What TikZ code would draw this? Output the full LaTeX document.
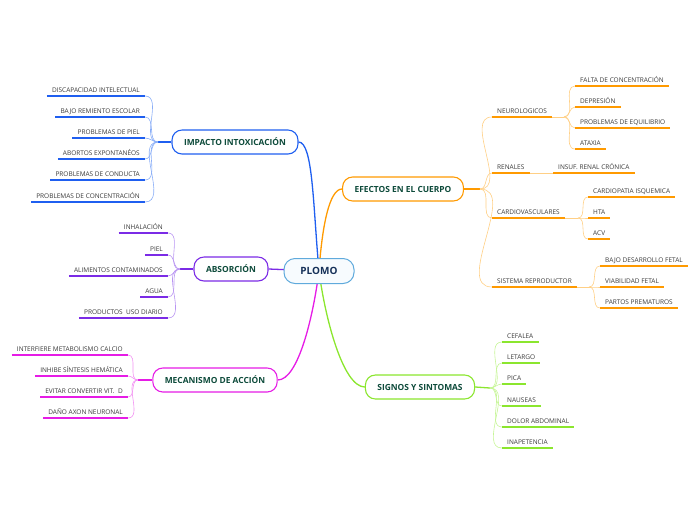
\documentclass[tikz,border=0pt]{standalone}
\usepackage{fontspec}
\setmainfont{Open Sans}
\usetikzlibrary{backgrounds}
\definecolor{HubLine}   {RGB}{95,170,220}
\definecolor{HubFill}   {RGB}{247,251,254}
\definecolor{HubText}   {RGB}{21,48,88}
\definecolor{TopicText} {RGB}{14,75,59}
\definecolor{LeafText}  {RGB}{58,58,58}
\definecolor{Blue}      {RGB}{31,95,240}
\definecolor{BlueLt}    {RGB}{138,174,247}
\definecolor{Purple}    {RGB}{123,43,230}
\definecolor{PurpleLt}  {RGB}{185,149,242}
\definecolor{Magenta}   {RGB}{230,28,230}
\definecolor{MagentaLt} {RGB}{242,145,242}
\definecolor{Orange}    {RGB}{255,154,0}
\definecolor{OrangeLt}  {RGB}{255,207,133}
\definecolor{Green}     {RGB}{139,230,46}
\definecolor{GreenLt}   {RGB}{198,245,150}
\tikzset{
  hub/.style={
    rectangle, rounded corners=11pt,
    draw=HubLine, fill=HubFill, line width=1pt,
    font=\fontsize{10}{12}\selectfont\bfseries, text=HubText,
    minimum width=70pt, minimum height=25pt
  },
  % Main topic pill, coloured border
  topic/.style={
    rectangle, rounded corners=10pt,
    draw=#1, fill=white, line width=1.1pt,
    font=\fontsize{8.4}{10}\selectfont\bfseries, text=TopicText,
    inner xsep=12pt, minimum height=24pt
  },
  % Underlined leaf text
  leaf/.style={
    font=\fontsize{6.5}{8}\selectfont, text=LeafText,
    inner xsep=5pt, inner ysep=2.4pt, text height=5pt, text depth=1.3pt,
    append after command={(\tikzlastnode.south west) edge[draw=#1, line width=1.5pt] (\tikzlastnode.south east)}
  },
  trunk/.style={draw=#1, line width=1.3pt},
  twig/.style={draw=#1, line width=0.6pt},
  fanL/.style={out=180, in=0},
  fanR/.style={out=0, in=180}
}

\begin{document}
\begin{tikzpicture}[x=1pt, y=-1pt]
  \useasboundingbox (0,0) rectangle (696,520);

  %% ── Centre and main topics ────────────────────────────────────────────────
  \node[hub] (plomo) at (319,271) {PLOMO};
  \node[topic=Blue]    (imp) at (235,142) {IMPACTO INTOXICACIÓN};
  \node[topic=Purple]  (abs) at (231,269) {ABSORCIÓN};
  \node[topic=Magenta] (mec) at (215,380) {MECANISMO DE ACCIÓN};
  \node[topic=Orange]  (efe) at (403,189) {EFECTOS EN EL CUERPO};
  \node[topic=Green]   (sig) at (420,387) {SIGNOS Y SINTOMAS};

  %% ── Impacto intoxicación (left) ───────────────────────────────────────────
  \node[leaf=Blue, anchor=south east] (i1) at (145,96)  {DISCAPACIDAD INTELECTUAL};
  \node[leaf=Blue, anchor=south east] (i2) at (145,117) {BAJO REMIENTO ESCOLAR};
  \node[leaf=Blue, anchor=south east] (i3) at (145,138) {PROBLEMAS DE PIEL};
  \node[leaf=Blue, anchor=south east] (i4) at (145,159) {ABORTOS EXPONTANÉOS};
  \node[leaf=Blue, anchor=south east] (i5) at (145,180) {PROBLEMAS DE CONDUCTA};
  \node[leaf=Blue, anchor=south east] (i6) at (145,202) {PROBLEMAS DE CONCENTRACIÓN};
  \coordinate (impB) at (158,142);

  %% ── Absorción (left) ──────────────────────────────────────────────────────
  \node[leaf=Purple, anchor=south east] (a1) at (168,233) {INHALACIÓN};
  \node[leaf=Purple, anchor=south east] (a2) at (168,255) {PIEL};
  \node[leaf=Purple, anchor=south east] (a3) at (168,276) {ALIMENTOS CONTAMINADOS};
  \node[leaf=Purple, anchor=south east] (a4) at (168,297) {AGUA};
  \node[leaf=Purple, anchor=south east] (a5) at (168,318) {PRODUCTOS\ \ USO DIARIO};
  \coordinate (absB) at (180,269);

  %% ── Mecanismo de acción (left) ────────────────────────────────────────────
  \node[leaf=Magenta, anchor=south east] (m1) at (128,355) {INTERFIERE METABOLISMO CALCIO};
  \node[leaf=Magenta, anchor=south east] (m2) at (128,376) {INHIBE SÍNTESIS HEMÁTICA};
  \node[leaf=Magenta, anchor=south east] (m3) at (128,397) {EVITAR CONVERTIR VIT.\ \ D};
  \node[leaf=Magenta, anchor=south east] (m4) at (128,418) {DAÑO AXON NEURONAL};
  \coordinate (mecB) at (138,380);

  %% ── Efectos en el cuerpo (right) ──────────────────────────────────────────
  \node[leaf=Orange, anchor=south west] (neu) at (492,117) {NEUROLOGICOS};
  \node[leaf=Orange, anchor=south west] (ren) at (492,173) {RENALES};
  \node[leaf=Orange, anchor=south west] (car) at (492,218) {CARDIOVASCULARES};
  \node[leaf=Orange, anchor=south west] (sis) at (492,287) {SISTEMA REPRODUCTOR};
  \coordinate (efeB) at (480,189);

  \node[leaf=Orange, anchor=south west] (n1) at (575,86)  {FALTA DE CONCENTRACIÓN};
  \node[leaf=Orange, anchor=south west] (n2) at (575,107) {DEPRESIÓN};
  \node[leaf=Orange, anchor=south west] (n3) at (575,128) {PROBLEMAS DE EQUILIBRIO};
  \node[leaf=Orange, anchor=south west] (n4) at (575,149) {ATAXIA};
  \coordinate (neuB) at (564,117);

  \node[leaf=Orange, anchor=south west] (ins) at (553,173) {INSUF. RENAL CRÓNICA};

  \node[leaf=Orange, anchor=south west] (c1) at (588,197) {CARDIOPATIA ISQUEMICA};
  \node[leaf=Orange, anchor=south west] (c2) at (588,218) {HTA};
  \node[leaf=Orange, anchor=south west] (c3) at (588,239) {ACV};
  \coordinate (carB) at (578,218);

  \node[leaf=Orange, anchor=south west] (s1) at (600,266) {BAJO DESARROLLO FETAL};
  \node[leaf=Orange, anchor=south west] (s2) at (600,287) {VIABILIDAD FETAL};
  \node[leaf=Orange, anchor=south west] (s3) at (600,308) {PARTOS PREMATUROS};
  \coordinate (sisB) at (589,287);

  %% ── Signos y sintomas (right) ─────────────────────────────────────────────
  \node[leaf=Green, anchor=south west] (g1) at (502,342) {CEFALEA};
  \node[leaf=Green, anchor=south west] (g2) at (502,363) {LETARGO};
  \node[leaf=Green, anchor=south west] (g3) at (502,384) {PICA};
  \node[leaf=Green, anchor=south west] (g4) at (502,406) {NAUSEAS};
  \node[leaf=Green, anchor=south west] (g5) at (502,427) {DOLOR ABDOMINAL};
  \node[leaf=Green, anchor=south west] (g6) at (502,448) {INAPETENCIA};
  \coordinate (sigB) at (490,388);

  %% ── Connectors ────────────────────────────────────────────────────────────
  \begin{scope}[on background layer]
    \draw[trunk=Blue]    (imp.east) .. controls (313,142) and (313,205) .. (plomo.center);
    \draw[trunk=Orange]  (efe.west) .. controls (329,189) and (322,228) .. (plomo.center);
    \draw[trunk=Purple]  (abs.east) -- (plomo.center);
    \draw[trunk=Magenta] (mec.east) .. controls (298,380) and (313,318) .. (plomo.center);
    \draw[trunk=Green]   (sig.west) .. controls (343,387) and (325,318) .. (plomo.center);

    \draw[trunk=Blue] (imp.west) -- (impB);
    \path[twig=BlueLt] (impB) edge[fanL] (i1.south east) edge[fanL] (i2.south east)
      edge[fanL] (i3.south east) edge[fanL] (i4.south east)
      edge[fanL] (i5.south east) edge[fanL] (i6.south east);

    \draw[trunk=Purple] (abs.west) -- (absB);
    \path[twig=PurpleLt] (absB) edge[fanL] (a1.south east) edge[fanL] (a2.south east)
      edge[fanL] (a3.south east) edge[fanL] (a4.south east) edge[fanL] (a5.south east);

    \draw[trunk=Magenta] (mec.west) -- (mecB);
    \path[twig=MagentaLt] (mecB) edge[fanL] (m1.south east) edge[fanL] (m2.south east)
      edge[fanL] (m3.south east) edge[fanL] (m4.south east);

    \draw[trunk=Orange] (efe.east) -- (efeB);
    \path[twig=OrangeLt] (efeB) edge[fanR] (neu.south west) edge[fanR] (ren.south west)
      edge[fanR] (car.south west) edge[fanR] (sis.south west);
    \draw[twig=OrangeLt] (neu.south east) -- (neuB);
    \path[twig=OrangeLt] (neuB) edge[fanR] (n1.south west) edge[fanR] (n2.south west)
      edge[fanR] (n3.south west) edge[fanR] (n4.south west);
    \draw[twig=OrangeLt] (ren.south east) -- (ins.south west);
    \draw[twig=OrangeLt] (car.south east) -- (carB);
    \path[twig=OrangeLt] (carB) edge[fanR] (c1.south west) edge[fanR] (c2.south west)
      edge[fanR] (c3.south west);
    \draw[twig=OrangeLt] (sis.south east) -- (sisB);
    \path[twig=OrangeLt] (sisB) edge[fanR] (s1.south west) edge[fanR] (s2.south west)
      edge[fanR] (s3.south west);

    \draw[trunk=Green] (sig.east) -- (sigB);
    \path[twig=GreenLt] (sigB) edge[fanR] (g1.south west) edge[fanR] (g2.south west)
      edge[fanR] (g3.south west) edge[fanR] (g4.south west)
      edge[fanR] (g5.south west) edge[fanR] (g6.south west);
  \end{scope}

\end{tikzpicture}
\end{document}
